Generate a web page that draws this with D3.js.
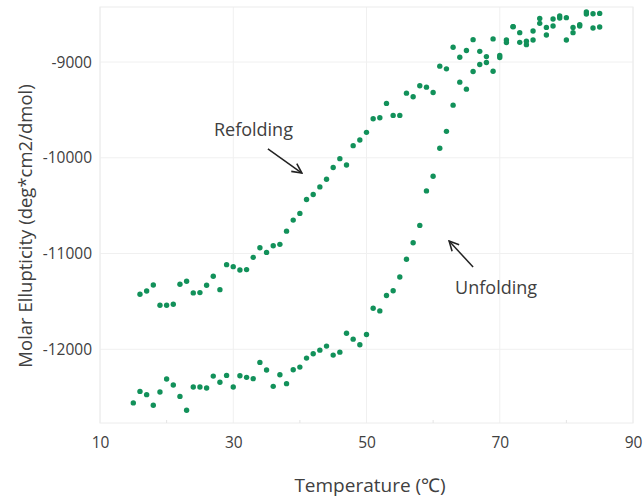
<!DOCTYPE html>
<html>
<head>
<meta charset="utf-8">
<script src="https://cdn.jsdelivr.net/npm/d3@7"></script>
<style>
  body { margin: 0; background: #fff; }
  text { font-family: "Open Sans", "Noto Sans", sans-serif; fill: #404040; }
</style>
</head>
<body>
<div id="chart"></div>
<script>
// temperatures (°C) and molar ellipticity
const unfoldTemps = d3.range(15, 86);
const unfoldValues = [
  -12560, -12440, -12474, -12585, -12446, -12310, -12373, -12492, -12637, -12394,
  -12394, -12404, -12280, -12345, -12273, -12394, -12276, -12293, -12307, -12137,
  -12217, -12387, -12266, -12359, -12214, -12186, -12092, -12047, -12009, -11967,
  -12061, -12030, -11832, -11894, -11953, -11845, -11571, -11599, -11439, -11388,
  -11245, -11060, -10888, -10706, -10346, -10193, -9901, -9724, -9450, -9210,
  -9283, -9099, -9026, -9005, -9096, -8953, -8797, -8630, -8794, -8818,
  -8769, -8596, -8717, -8623, -8540, -8769, -8693, -8623, -8498, -8644, -8634
];
const refoldTemps = d3.range(16, 86);
const refoldValues = [
  -11425, -11391, -11328, -11540, -11540, -11529, -11321, -11290, -11411, -11408,
  -11331, -11238, -11377, -11116, -11137, -11172, -11168, -11040, -10940, -10988,
  -10918, -10904, -10766, -10651, -10581, -10436, -10384, -10304, -10224, -10102,
  -10009, -10075, -9873, -9814, -9734, -9592, -9581, -9432, -9557, -9557,
  -9325, -9363, -9248, -9262, -9318, -9043, -9071, -8846, -8950, -8880,
  -8766, -8888, -8943, -8758, -8932, -8769, -8630, -8693, -8783, -8675,
  -8544, -8638, -8550, -8519, -8536, -8638, -8609, -8477, -8495, -8492
];
const xTicks = [10, 30, 50, 70, 90];
const yTicks = [-12000, -11000, -10000, -9000];

const width = 644, height = 502;
const plotL = 100, plotR = 633, plotT = 7, plotB = 423;
const dotColor = '#12915a';

const x = d3.scaleLinear().domain([10, 90]).range([plotL, plotR]);
const y = d3.scaleLinear().domain([-12770, -8425]).range([plotB, plotT]);

const svg = d3.select('#chart').append('svg')
  .attr('width', width)
  .attr('height', height);

// faint grid
svg.append('g')
  .selectAll('line')
  .data(xTicks)
  .join('line')
  .attr('x1', d => x(d)).attr('x2', d => x(d))
  .attr('y1', plotT).attr('y2', plotB)
  .attr('stroke', '#f0f0f0');
svg.append('g')
  .selectAll('line')
  .data(yTicks)
  .join('line')
  .attr('x1', plotL).attr('x2', plotR)
  .attr('y1', d => y(d)).attr('y2', d => y(d))
  .attr('stroke', '#f0f0f0');

svg.append('rect')
  .attr('x', plotL).attr('y', plotT)
  .attr('width', plotR - plotL).attr('height', plotB - plotT)
  .attr('fill', 'none')
  .attr('stroke', '#ececec');

// axes (plain hyphen for the minus, as in the original)
const xAxis = svg.append('g')
  .attr('transform', `translate(0,${plotB})`)
  .call(d3.axisBottom(x).tickValues(xTicks).tickSize(0).tickPadding(14));
const yAxis = svg.append('g')
  .attr('transform', `translate(${plotL},0)`)
  .call(d3.axisLeft(y).tickValues(yTicks).tickFormat(d => String(d)).tickSize(0).tickPadding(8));
[xAxis, yAxis].forEach(a => {
  a.select('.domain').remove();
  a.selectAll('text')
    .style('font-size', '15.5px')
    .style('font-family', '"Open Sans", "Noto Sans", sans-serif')
    .attr('fill', '#404040');
});

// minor ticks on the bottom
svg.append('g')
  .selectAll('line')
  .data([20, 40, 60, 80])
  .join('line')
  .attr('x1', d => x(d)).attr('x2', d => x(d))
  .attr('y1', plotB).attr('y2', plotB - 3)
  .attr('stroke', '#e4e4e4');

// dots
const unfold = unfoldTemps.map((t, i) => [t, unfoldValues[i]]);
const refold = refoldTemps.map((t, i) => [t, refoldValues[i]]);
svg.append('g')
  .selectAll('circle')
  .data(unfold.concat(refold))
  .join('circle')
  .attr('cx', d => x(d[0]))
  .attr('cy', d => y(d[1]))
  .attr('r', 2.7)
  .attr('fill', dotColor);

// axis titles
svg.append('text')
  .attr('x', 370)
  .attr('y', 492)
  .attr('text-anchor', 'middle')
  .style('font-size', '19px')
  .text('Temperature (℃)');
svg.append('text')
  .attr('transform', `translate(32,226) rotate(-90)`)
  .attr('text-anchor', 'middle')
  .style('font-size', '18.5px')
  .text('Molar Ellupticity (deg*cm2/dmol)');

// annotations
svg.append('defs').append('marker')
  .attr('id', 'head')
  .attr('viewBox', '0 0 10 10')
  .attr('refX', 9).attr('refY', 5)
  .attr('markerWidth', 8).attr('markerHeight', 8)
  .attr('orient', 'auto')
  .append('path')
  .attr('d', 'M1,1 L9,5 L1,9')
  .attr('fill', 'none')
  .attr('stroke', '#222')
  .attr('stroke-width', 1.3);

const notes = [
  { label: 'Refolding', tx: 27.1, ty: -9770, from: [35.2, -9908], to: [40.3, -10159] },
  { label: 'Unfolding', tx: 63.3, ty: -11423, from: [66, -11141], to: [62.4, -10869] }
];
notes.forEach(n => {
  svg.append('text')
    .attr('x', x(n.tx))
    .attr('y', y(n.ty))
    .style('font-size', '18px')
    .attr('fill', '#333')
    .text(n.label);
  svg.append('line')
    .attr('x1', x(n.from[0])).attr('y1', y(n.from[1]))
    .attr('x2', x(n.to[0])).attr('y2', y(n.to[1]))
    .attr('stroke', '#222')
    .attr('stroke-width', 1.5)
    .attr('marker-end', 'url(#head)');
});
</script>
</body>
</html>
